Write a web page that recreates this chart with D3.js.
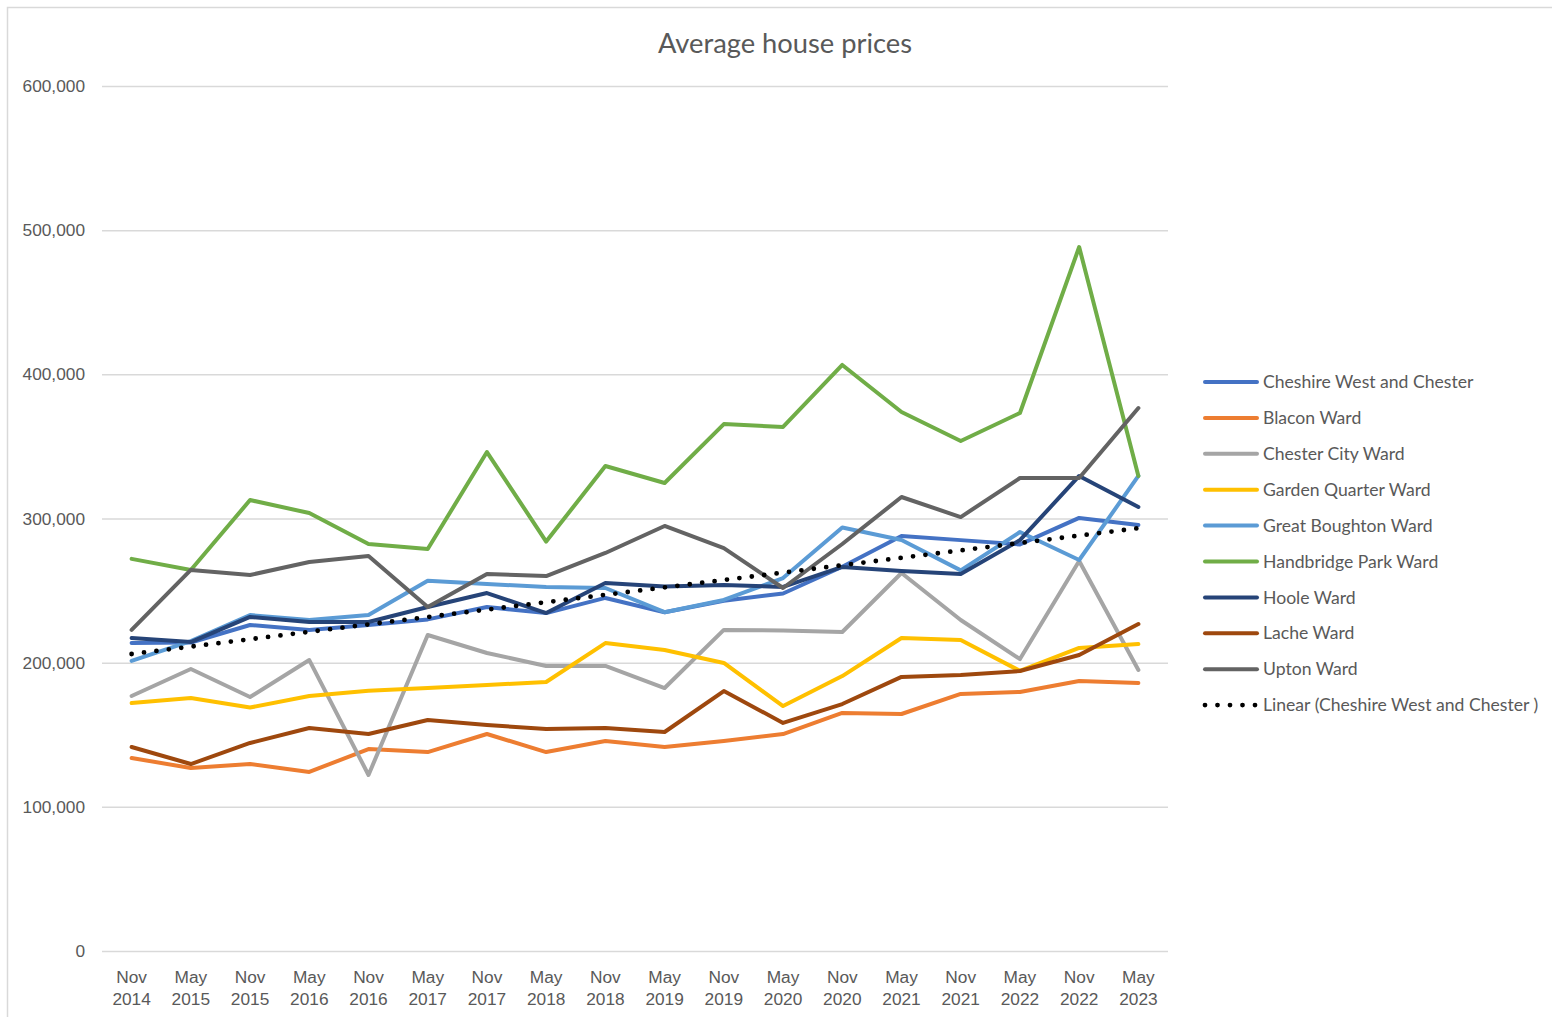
<!DOCTYPE html>
<html>
<head>
<meta charset="utf-8">
<script src="https://cdn.jsdelivr.net/npm/d3@7"></script>
<style>
  body { margin: 0; background: #fff; }
  svg { display: block; font-family: Lato, "Open Sans", sans-serif; }
  .grid line { stroke: #d9d9d9; stroke-width: 1.5; }
  .grid path { display: none; }
  .axis path, .axis line { display: none; }
  .axis text { fill: #595959; font-size: 17.3px; }
</style>
</head>
<body>
<div class="svg-container"></div>
<script>
// categories (x axis)
var periods = ["Nov 2014", "May 2015", "Nov 2015", "May 2016", "Nov 2016", "May 2017",
    "Nov 2017", "May 2018", "Nov 2018", "May 2019", "Nov 2019", "May 2020",
    "Nov 2020", "May 2021", "Nov 2021", "May 2022", "Nov 2022", "May 2023"];

// series values
var cheshireWest = [213600, 214000, 226100, 222700, 226100, 230000, 238600, 234400, 244900,
    235000, 243000, 248000, 266500, 287900, 285000, 282000, 300400, 295500];
var blacon = [133900, 126900, 129700, 124200, 140100, 138000, 150500, 138000, 145700,
    141500, 145700, 150500, 165100, 164400, 178300, 179700, 187300, 185900];
var chesterCity = [176900, 195600, 176200, 201800, 122100, 219200, 206700, 197700, 197700,
    182400, 222700, 222300, 221300, 262200, 229600, 202500, 270500, 194900];
var gardenQuarter = [172000, 175500, 168900, 176900, 180600, 182400, 184500, 186600, 213600,
    208800, 199800, 169900, 190700, 217100, 215700, 194300, 210200, 212900];
var greatBoughton = [201200, 215000, 233000, 229600, 233000, 256800, 254500, 252500, 251800,
    235000, 243500, 258700, 293800, 285100, 264000, 290600, 271200, 329500];
var handbridgePark = [272000, 264300, 312800, 303800, 282300, 278800, 346100, 284000, 336400,
    324600, 365500, 363500, 406500, 373900, 353800, 373200, 488300, 329500];
var hoole = [217100, 214300, 231700, 228200, 228200, 238600, 248300, 234400, 255300,
    252800, 253900, 252500, 266400, 263600, 261500, 285000, 329500, 308000];
var lache = [141500, 129700, 144300, 154700, 150500, 160200, 156800, 154000, 154700,
    151900, 180300, 158200, 171300, 190100, 191400, 194200, 205300, 226800];
var upton = [222700, 264300, 260800, 269800, 274000, 238600, 261500, 260100, 276100,
    294800, 279500, 251800, 282300, 314900, 301000, 328100, 328100, 376600];

var seriesNames = ["Cheshire West and Chester", "Blacon Ward", "Chester City Ward",
    "Garden Quarter Ward", "Great Boughton Ward", "Handbridge Park Ward", "Hoole Ward",
    "Lache Ward", "Upton Ward"];
var seriesColors = ["#4472c4", "#ed7d31", "#a5a5a5", "#ffc000", "#5b9bd5",
    "#70ad47", "#264478", "#9e480e", "#636363"];
var seriesValues = [cheshireWest, blacon, chesterCity, gardenQuarter, greatBoughton,
    handbridgePark, hoole, lache, upton];
var trendName = "Linear (Cheshire West and Chester )";

var yTicks = [0, 100000, 200000, 300000, 400000, 500000, 600000];

// set up sizes
var W = 1552, H = 1017;
var margin = {top: 86, left: 102},
    width = 1168 - 102,
    height = 951 - 86;

var svg = d3.select(".svg-container").append("svg")
    .attr("width", W)
    .attr("height", H);

// outer chart border (runs off right and bottom)
svg.append("rect")
    .attr("x", 7.5).attr("y", 7.5)
    .attr("width", W + 20).attr("height", H + 20)
    .attr("fill", "none")
    .attr("stroke", "#d9d9d9")
    .attr("stroke-width", 1.5);

svg.append("text")
    .attr("x", 785)
    .attr("y", 53)
    .attr("text-anchor", "middle")
    .attr("fill", "#595959")
    .attr("font-size", "27.3px")
    .text("Average house prices");

var g = svg.append("g")
    .attr("transform", "translate(" + margin.left + "," + margin.top + ")");

var xScale = d3.scaleBand().domain(periods).range([0, width]),
    yScale = d3.scaleLinear().domain([0, 600000]).range([height, 0]);

function xc(i) {
    return xScale(periods[i]) + xScale.bandwidth() / 2;
}

// grid lines
g.append("g")
    .attr("class", "grid")
    .call(d3.axisLeft(yScale).tickValues(yTicks).tickSize(-width).tickFormat(""));

// y axis labels
g.append("g")
    .attr("class", "axis")
    .call(d3.axisLeft(yScale).tickValues(yTicks).tickSize(0).tickPadding(17)
        .tickFormat(d3.format(",")));

// x axis labels, two lines each
var xAxis = g.append("g")
    .attr("class", "axis")
    .attr("transform", "translate(0," + height + ")")
    .call(d3.axisBottom(xScale).tickSize(0).tickFormat(""));

xAxis.selectAll(".tick").append("text")
    .attr("fill", "#595959")
    .attr("text-anchor", "middle")
    .selectAll("tspan")
    .data(function (d) { return d.split(" "); })
    .enter().append("tspan")
    .attr("x", 0)
    .attr("y", function (d, i) { return 32 + i * 22; })
    .text(function (d) { return d; });

var line = d3.line()
    .x(function (d, i) { return xc(i); })
    .y(function (d) { return yScale(d); });

g.selectAll(".series")
    .data(seriesValues)
    .enter().append("path")
    .attr("class", "series")
    .attr("d", function (d) { return line(d); })
    .attr("fill", "none")
    .attr("stroke", function (d, i) { return seriesColors[i]; })
    .attr("stroke-width", 4)
    .attr("stroke-linejoin", "round")
    .attr("stroke-linecap", "round");

// least squares trend of Cheshire West and Chester
var idx = d3.range(cheshireWest.length),
    mx = d3.mean(idx),
    my = d3.mean(cheshireWest),
    slope = d3.sum(idx, function (i) { return (i - mx) * (cheshireWest[i] - my); }) /
        d3.sum(idx, function (i) { return (i - mx) * (i - mx); }),
    intercept = my - slope * mx;

var trend = idx.map(function (i) { return intercept + slope * i; });

g.append("path")
    .attr("d", line(trend))
    .attr("fill", "none")
    .attr("stroke", "#000")
    .attr("stroke-width", 4.8)
    .attr("stroke-linecap", "round")
    .attr("stroke-dasharray", "0,12.5");

// legend
var legendItems = seriesNames.map(function (n, i) {
    return {name: n, color: seriesColors[i], dotted: false};
});
legendItems.push({name: trendName, color: "#000", dotted: true});

var legend = svg.append("g")
    .attr("transform", "translate(1203,382)");

var item = legend.selectAll(".legend-item")
    .data(legendItems)
    .enter().append("g")
    .attr("class", "legend-item")
    .attr("transform", function (d, i) { return "translate(0," + (i * 35.9) + ")"; });

item.append("line")
    .attr("x1", 2).attr("x2", 54)
    .attr("stroke", function (d) { return d.color; })
    .attr("stroke-width", function (d) { return d.dotted ? 4.8 : 4; })
    .attr("stroke-linecap", "round")
    .attr("stroke-dasharray", function (d) { return d.dotted ? "0,12.5" : null; });

item.append("text")
    .attr("x", 60)
    .attr("dy", "0.35em")
    .attr("fill", "#595959")
    .attr("font-size", "17.6px")
    .text(function (d) { return d.name; });
</script>
</body>
</html>
